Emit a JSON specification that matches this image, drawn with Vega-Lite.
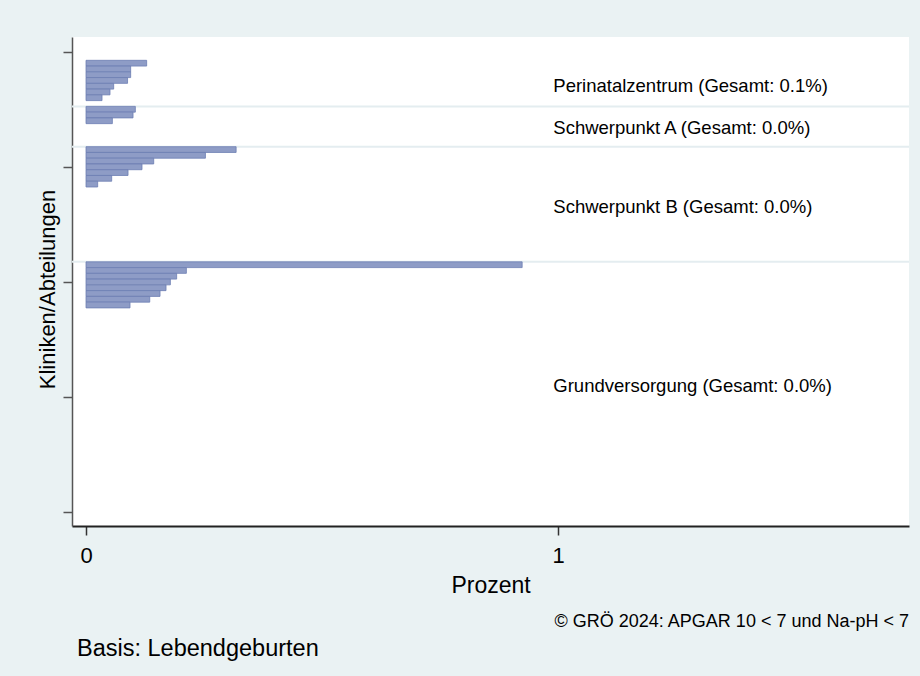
{
  "$schema": "https://vega.github.io/schema/vega-lite/v6.json",
  "width": 837,
  "height": 489,
  "autosize": {"type": "none"},
  "padding": {"left": 72, "top": 37, "right": 11, "bottom": 150},
  "background": "#EAF2F3",
  "config": {
    "font": "Liberation Sans",
    "view": {"fill": "white", "stroke": null},
    "axis": {"grid": false}
  },
  "title": {
    "text": "Basis: Lebendgeburten",
    "orient": "bottom",
    "anchor": "start",
    "frame": "group",
    "dx": 5,
    "fontSize": 23.5,
    "fontWeight": "normal",
    "color": "#000000",
    "offset": 6
  },
  "datasets": {
    "bars": [
      {"gruppe": "Perinatalzentrum", "pos": 2, "prozent": 0.1285},
      {"gruppe": "Perinatalzentrum", "pos": 3, "prozent": 0.0946},
      {"gruppe": "Perinatalzentrum", "pos": 4, "prozent": 0.0946},
      {"gruppe": "Perinatalzentrum", "pos": 5, "prozent": 0.088},
      {"gruppe": "Perinatalzentrum", "pos": 6, "prozent": 0.0586},
      {"gruppe": "Perinatalzentrum", "pos": 7, "prozent": 0.0508},
      {"gruppe": "Perinatalzentrum", "pos": 8, "prozent": 0.0339},
      {"gruppe": "Schwerpunkt A", "pos": 10, "prozent": 0.1045},
      {"gruppe": "Schwerpunkt A", "pos": 11, "prozent": 0.0996},
      {"gruppe": "Schwerpunkt A", "pos": 12, "prozent": 0.0558},
      {"gruppe": "Schwerpunkt B", "pos": 17, "prozent": 0.318},
      {"gruppe": "Schwerpunkt B", "pos": 18, "prozent": 0.253},
      {"gruppe": "Schwerpunkt B", "pos": 19, "prozent": 0.1434},
      {"gruppe": "Schwerpunkt B", "pos": 20, "prozent": 0.1186},
      {"gruppe": "Schwerpunkt B", "pos": 21, "prozent": 0.089},
      {"gruppe": "Schwerpunkt B", "pos": 22, "prozent": 0.0544},
      {"gruppe": "Schwerpunkt B", "pos": 23, "prozent": 0.0247},
      {"gruppe": "Grundversorgung", "pos": 37, "prozent": 0.924},
      {"gruppe": "Grundversorgung", "pos": 38, "prozent": 0.2126},
      {"gruppe": "Grundversorgung", "pos": 39, "prozent": 0.192},
      {"gruppe": "Grundversorgung", "pos": 40, "prozent": 0.1787},
      {"gruppe": "Grundversorgung", "pos": 41, "prozent": 0.1695},
      {"gruppe": "Grundversorgung", "pos": 42, "prozent": 0.1568},
      {"gruppe": "Grundversorgung", "pos": 43, "prozent": 0.135},
      {"gruppe": "Grundversorgung", "pos": 44, "prozent": 0.0932}
    ],
    "separators": [
      {"grenze": 9.5},
      {"grenze": 16.5},
      {"grenze": 36.5}
    ],
    "labels": [
      {"label": "Perinatalzentrum (Gesamt: 0.1%)", "lx": 0.99, "ly": 5.9},
      {"label": "Schwerpunkt A (Gesamt: 0.0%)", "lx": 0.99, "ly": 13.2},
      {"label": "Schwerpunkt B (Gesamt: 0.0%)", "lx": 0.99, "ly": 26.9},
      {"label": "Grundversorgung (Gesamt: 0.0%)", "lx": 0.99, "ly": 58.1}
    ],
    "caption": [
      {"text": "© GRÖ 2024: APGAR 10 < 7 und Na-pH < 7", "cx": 1.7436, "cy": 99.0}
    ]
  },
  "layer": [
    {
      "data": {"name": "separators"},
      "mark": {"type": "rule", "color": "#E4EDF0", "strokeWidth": 2},
      "encoding": {
        "y": {
          "field": "grenze",
          "type": "quantitative",
          "scale": {"domain": [-2.55, 82.38], "reverse": true, "nice": false, "zero": false, "padding": 0},
          "axis": {
            "values": [0, 20, 40, 60, 80],
            "labels": false,
            "tickSize": 9,
            "tickColor": "#555555",
            "tickWidth": 1.5,
            "domainColor": "#555555",
            "domainWidth": 1.5,
            "title": "Kliniken/Abteilungen",
            "titleFontSize": 22,
            "titleFontWeight": "normal",
            "titleColor": "#000000",
            "titlePadding": 3,
            "titleY": 252
          }
        }
      }
    },
    {
      "data": {"name": "bars"},
      "mark": {"type": "bar", "orient": "horizontal", "size": 5.76, "fill": "#8E9CC6", "stroke": "#6C7DB2", "strokeWidth": 0.8},
      "encoding": {
        "y": {"field": "pos", "type": "quantitative"},
        "x": {
          "field": "prozent",
          "type": "quantitative",
          "scale": {"domain": [-0.0297, 1.7436], "nice": false, "zero": false, "padding": 0},
          "axis": {
            "values": [0, 1],
            "format": "d",
            "tickSize": 9,
            "tickColor": "#333333",
            "tickWidth": 1.5,
            "domainColor": "#222222",
            "domainWidth": 2,
            "labelFontSize": 22,
            "labelColor": "#000000",
            "labelPadding": 10,
            "title": "Prozent",
            "titleFontSize": 23,
            "titleFontWeight": "normal",
            "titleColor": "#000000",
            "titlePadding": 8
          }
        }
      }
    },
    {
      "data": {"name": "labels"},
      "mark": {"type": "text", "align": "left", "baseline": "middle", "fontSize": 18.5, "color": "#000000"},
      "encoding": {
        "x": {"field": "lx", "type": "quantitative"},
        "y": {"field": "ly", "type": "quantitative"},
        "text": {"field": "label"}
      }
    },
    {
      "data": {"name": "caption"},
      "mark": {"type": "text", "align": "right", "baseline": "middle", "fontSize": 18, "color": "#000000", "clip": false},
      "encoding": {
        "x": {"field": "cx", "type": "quantitative"},
        "y": {"field": "cy", "type": "quantitative"},
        "text": {"field": "text"}
      }
    }
  ]
}
